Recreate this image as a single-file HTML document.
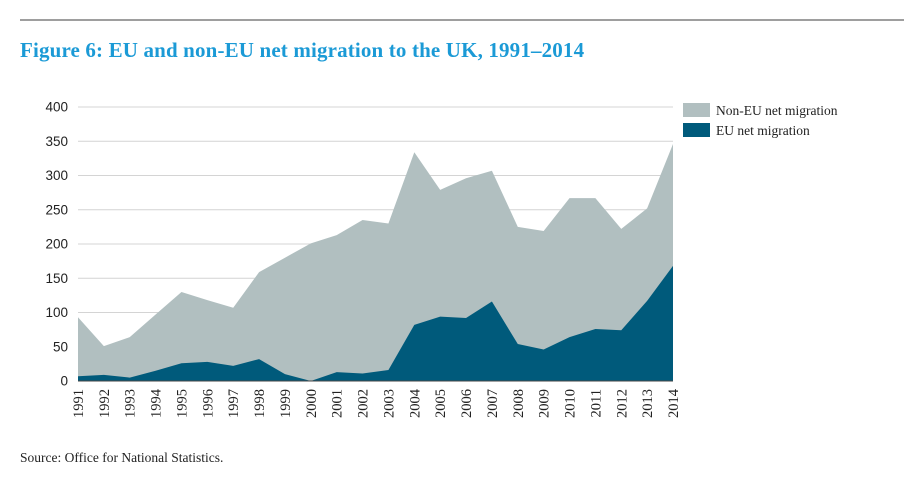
<!DOCTYPE html>
<html><head><meta charset="utf-8"><style>
body{margin:0;width:924px;height:487px;background:#fff;overflow:hidden}
svg{display:block}
</style></head><body>
<svg id="chart" width="924" height="487" xmlns="http://www.w3.org/2000/svg">
<line x1="20" y1="20" x2="904" y2="20" stroke="#7f7f7f" stroke-width="1.5"/>
<text x="20" y="57" font-family="Liberation Serif, serif" font-weight="bold" font-size="21" letter-spacing="0.15" fill="#1b9ad6">Figure 6: EU and non-EU net migration to the UK, 1991–2014</text>
<g id="grid"></g>
<g id="areas"></g>
<g id="yticks"></g>
<g id="xticks"></g>
<rect x="683" y="103" width="27" height="14" fill="#b1bfc0"/>
<text x="716" y="115" font-family="Liberation Serif, serif" font-size="13.5" fill="#222">Non-EU net migration</text>
<rect x="683" y="123" width="27" height="14" fill="#005a7b"/>
<text x="716" y="135" font-family="Liberation Serif, serif" font-size="13.5" fill="#222">EU net migration</text>
<text x="20" y="462" font-family="Liberation Serif, serif" font-size="13.5" fill="#222">Source: Office for National Statistics.</text>
</svg>
<script>
const years=[1991,1992,1993,1994,1995,1996,1997,1998,1999,2000,2001,2002,2003,2004,2005,2006,2007,2008,2009,2010,2011,2012,2013,2014];
const totalNet=[93,51,64,97,130,118,107,159,180,201,213,235,230,334,279,296,307,225,219,267,267,222,252,346];
const euNet=[7,9,5,15,26,28,22,32,10,0,13,11,16,82,94,92,116,54,46,64,76,74,117,168];
const yTicks=[0,50,100,150,200,250,300,350,400];
const NS='http://www.w3.org/2000/svg';
const x0=78,x1=673,yBase=381,yTop=107;
function X(i){return x0+(x1-x0)*i/(years.length-1);}
function Y(v){return yBase-(yBase-yTop)*v/400;}
const grid=document.getElementById('grid'),yt=document.getElementById('yticks'),xt=document.getElementById('xticks'),ar=document.getElementById('areas');
yTicks.forEach(v=>{
 const l=document.createElementNS(NS,'line');
 l.setAttribute('x1',x0);l.setAttribute('x2',x1);l.setAttribute('y1',Y(v));l.setAttribute('y2',Y(v));
 l.setAttribute('stroke','#d4d4d4');l.setAttribute('stroke-width','1');
 
 
 grid.appendChild(l);
 const t=document.createElementNS(NS,'text');
 t.setAttribute('x',68);t.setAttribute('y',Y(v)+4.5);t.setAttribute('text-anchor','end');
 t.setAttribute('font-family','Liberation Sans, sans-serif');t.setAttribute('font-size','13.5');t.setAttribute('fill','#222');
 t.textContent=v;
 
 
 yt.appendChild(t);
});
function area(vals,fill,name){
 let d='M'+X(0)+','+Y(0);
 vals.forEach((v,i)=>{d+=' L'+X(i)+','+Y(v);});
 d+=' L'+X(vals.length-1)+','+Y(0)+' Z';
 const p=document.createElementNS(NS,'path');
 p.setAttribute('d',d);p.setAttribute('fill',fill);
 
 
 ar.appendChild(p);
}
area(totalNet,'#b1bfc0','non-eu-area');
area(euNet,'#005a7b','eu-area');
const ax=document.createElementNS(NS,'line');
ax.setAttribute('x1',x0);ax.setAttribute('x2',x1);ax.setAttribute('y1',yBase);ax.setAttribute('y2',yBase);
ax.setAttribute('stroke','#444');ax.setAttribute('stroke-width','1');


ar.appendChild(ax);
years.forEach((yr,i)=>{
 const t=document.createElementNS(NS,'text');
 const x=X(i)+5,y=389;
 t.setAttribute('x',x);t.setAttribute('y',y);t.setAttribute('text-anchor','end');
 t.setAttribute('transform','rotate(-90 '+x+' '+y+')');
 t.setAttribute('font-family','Liberation Serif, serif');t.setAttribute('font-size','14.5');t.setAttribute('fill','#222');
 t.textContent=yr;
 
 
 xt.appendChild(t);
});
</script>
</body></html>
